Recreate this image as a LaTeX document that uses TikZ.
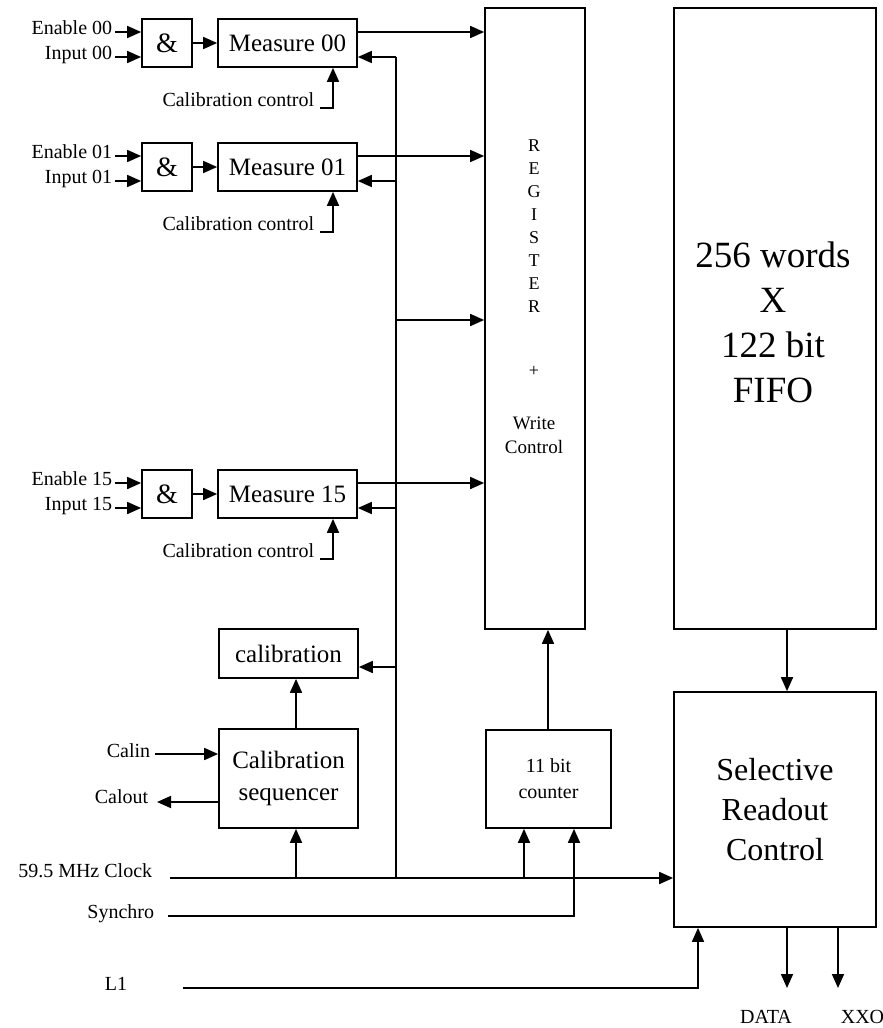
\documentclass[tikz,border=0pt]{standalone}
\usepackage{fontspec}
\setmainfont{Liberation Serif}
\usetikzlibrary{arrows.meta,calc}
\begin{document}
\begin{tikzpicture}[x=1pt,y=-1pt,line width=1.7pt,
  box/.style={draw,line width=1.7pt,inner sep=0pt,align=center},
  arr/.style={-{Triangle[length=14pt,width=12pt]}},
  lbl/.style={font=\fontsize{20}{24}\selectfont,inner sep=0pt},
  measfont/.style={font=\fontsize{25}{28}\selectfont},
  regl/.style={font=\fontsize{18}{20}\selectfont,inner sep=0pt}]
\useasboundingbox (0,0) rectangle (883,1028);

% big blocks
\node[box,minimum width=100,minimum height=621] (reg) at (535,318.5) {};
\node[box,minimum width=202,minimum height=621] (fifo) at (775,318.5) {};
\node[font=\fontsize{37}{45}\selectfont,align=center,inner sep=0pt] (fifotxt) at (773,322) {256 words\\X\\122 bit\\FIFO};
\node[box,minimum width=202,minimum height=235,font=\fontsize{32}{40}\selectfont] (src) at (775,809.5) {Selective\\Readout\\Control};
\node[box,minimum width=125,minimum height=98,font=\fontsize{20}{26}\selectfont] (cnt) at (548.5,779) {11 bit\\counter};
\node[box,minimum width=139,minimum height=49,measfont] (cal) at (288.5,653.5) {calibration};
\node[box,minimum width=139,minimum height=99,font=\fontsize{25}{32}\selectfont] (seq) at (288.5,778.5) {Calibration\\sequencer};

% register text
\foreach \l [count=\i] in {R,E,G,I,S,T,E,R}
  \node[regl] (rl\i) at (534,{146+23*(\i-1)}) {\l};
\node[regl] (plus) at (534,371) {+};
\node[regl,align=center,font=\fontsize{19}{24}\selectfont] (wc) at (534,435) {Write\\Control};

% bus
\coordinate (bustop) at (396,57);
\coordinate (busbot) at (396,878);
\draw (bustop) -- (busbot);
\coordinate (b320) at (396,320);
\draw[arr] (b320) -- (b320 -| reg.west);
\coordinate (b667) at (396,667);
\draw[arr] (b667) -- (b667 -| cal.east);

% channels
\foreach \n/\c in {00/43,01/167,15/494}{
  \node[box,minimum width=50,minimum height=48,font=\fontsize{28}{30}\selectfont] (and\n) at (167,\c) {\&};
  \node[box,minimum width=139,minimum height=48,measfont] (m\n) at (287.5,\c) {Measure \n};
  \coordinate (en\n) at (115,\c-11);
  \coordinate (in\n) at (115,\c+14);
  \node[lbl,anchor=base east] (enl\n) at (113,\c-9) {Enable \n};
  \node[lbl,anchor=base east] (inl\n) at (113,\c+16) {Input \n};
  \draw[arr] (en\n) -- (en\n -| and\n.west);
  \draw[arr] (in\n) -- (in\n -| and\n.west);
  \draw[arr] (and\n.east) -- (m\n.west);
  \draw[arr] (m\n.east |- en\n) -- (reg.west |- en\n);
  \draw[arr] (bustop |- in\n) -- (m\n.east |- in\n);
  \node[lbl,anchor=base east] (cc\n) at (315,\c+63) {Calibration control};
  \coordinate (h\n) at (320,\c+65);
  \draw[arr] (h\n) -| ([xshift=45.5]m\n.south);
}

% calibration
\draw[arr] ([xshift=7.5]seq.north) -- ([xshift=7.5]seq.north |- cal.south);
\node[lbl,anchor=base east] (calin) at (151,757) {Calin};
\coordinate (calinend) at (155,754);
\draw[arr] (calinend) -- (calinend -| seq.west);
\node[lbl,anchor=base east] (calout) at (149,803) {Calout};
\coordinate (caloutend) at (157,802);
\draw[arr] (caloutend -| seq.west) -- (caloutend);

% clock
\node[lbl,anchor=base east] (clkl) at (153,877) {59.5 MHz Clock};
\coordinate (clk) at (170,878);
\draw[arr] (clk) -- (clk -| src.west);
\coordinate (clkseq) at (296,878);
\draw[arr] (clkseq) -- (clkseq |- seq.south);
\coordinate (clkcnt) at (524,878);
\draw[arr] (clkcnt) -- (clkcnt |- cnt.south);

% synchro
\node[lbl,anchor=base east] (synl) at (155,918) {Synchro};
\coordinate (syn) at (168,916);
\coordinate (syncnt) at (574,916);
\draw[arr] (syn) -- (syncnt) -- (syncnt |- cnt.south);

% L1
\node[lbl,anchor=base east] (l1l) at (128,990) {L1};
\coordinate (l1) at (183,988);
\coordinate (l1src) at (698,988);
\draw[arr] (l1) -- (l1src) -- (l1src |- src.south);

% counter, fifo
\coordinate (cntup) at (548,730);
\draw[arr] (cntup) -- (cntup |- reg.south);
\draw[arr] ([xshift=12]fifo.south) -- ([xshift=12]src.north);

% outputs
\coordinate (dataend) at (787,988);
\coordinate (xxoend) at (838,988);
\draw[arr] (dataend |- src.south) -- (dataend);
\draw[arr] (xxoend |- src.south) -- (xxoend);
\node[lbl,anchor=base] (datal) at (766,1023) {DATA};
\node[lbl,anchor=base west] (xxol) at (840,1023) {XXO};
\end{tikzpicture}
\end{document}
